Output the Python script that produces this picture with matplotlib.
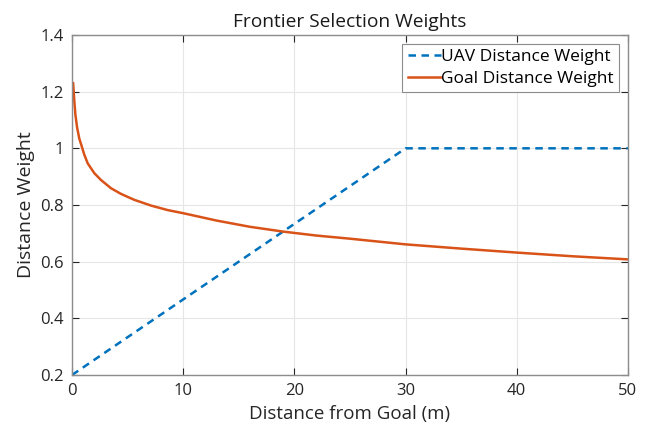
import matplotlib
matplotlib.use("Agg")
import matplotlib.pyplot as plt

# Data
uav_x = [0, 30, 50]
uav_y = [0.2, 1.0, 1.0]

goal_x = [0.1, 0.2, 0.3, 0.45, 0.65, 0.85, 1.1, 1.41, 2.01, 2.61, 3.51, 4.41,
          5.61, 7.1, 8.6, 10, 13, 16, 19, 22, 25, 30, 35, 40, 45, 50]
goal_y = [1.23, 1.17, 1.12, 1.075, 1.035, 1.01, 0.978, 0.947, 0.912, 0.888,
          0.859, 0.839, 0.818, 0.798, 0.782, 0.771, 0.745, 0.723, 0.706, 0.692,
          0.681, 0.661, 0.646, 0.632, 0.619, 0.608]

xticks = [0, 10, 20, 30, 40, 50]
yticks = [0.2, 0.4, 0.6, 0.8, 1.0, 1.2, 1.4]
ytick_labels = ["0.2", "0.4", "0.6", "0.8", "1", "1.2", "1.4"]

plt.rcParams['font.family'] = ['Open Sans', 'DejaVu Sans']

fig = plt.figure(figsize=(6.46, 4.30), dpi=100)
ax = fig.add_axes([0.1115, 0.128, 0.8605, 0.7906])

ax.plot(uav_x, uav_y, linestyle='--', color='#0072BD', linewidth=1.8,
        dashes=(3, 2.2), label='UAV Distance Weight')
ax.plot(goal_x, goal_y, linestyle='-', color='#D95319', linewidth=1.8,
        label='Goal Distance Weight', solid_joinstyle='round')

ax.set_xlim(0, 50)
ax.set_ylim(0.2, 1.4)
ax.set_xticks(xticks)
ax.set_yticks(yticks)
ax.set_yticklabels(ytick_labels)
ax.tick_params(direction='in', length=5, width=0.8, colors='#262626',
               labelsize=12, top=True, right=True, pad=6)
for lbl in ax.get_xticklabels() + ax.get_yticklabels():
    lbl.set_color('#262626')
ax.grid(True, color='#e6e6e6', linewidth=0.8)
ax.set_axisbelow(True)
for s in ax.spines.values():
    s.set_color('#8c8c8c')
    s.set_linewidth(1.0)

ax.set_title('Frontier Selection Weights', fontsize=13.8, color='#1a1a1a', pad=6)
ax.set_xlabel('Distance from Goal (m)', fontsize=13.5, color='#262626', labelpad=4)
ax.set_ylabel('Distance Weight', fontsize=14, color='#262626', labelpad=4)

leg = ax.legend(loc='upper right', fontsize=12.5, frameon=True, fancybox=False,
                framealpha=1, edgecolor='#8c8c8c', handlelength=1.9,
                handletextpad=0.05, borderpad=0.3, labelspacing=0.35,
                borderaxespad=0.5)
leg.get_frame().set_linewidth(0.8)

fig.savefig('out.png', dpi=100)
